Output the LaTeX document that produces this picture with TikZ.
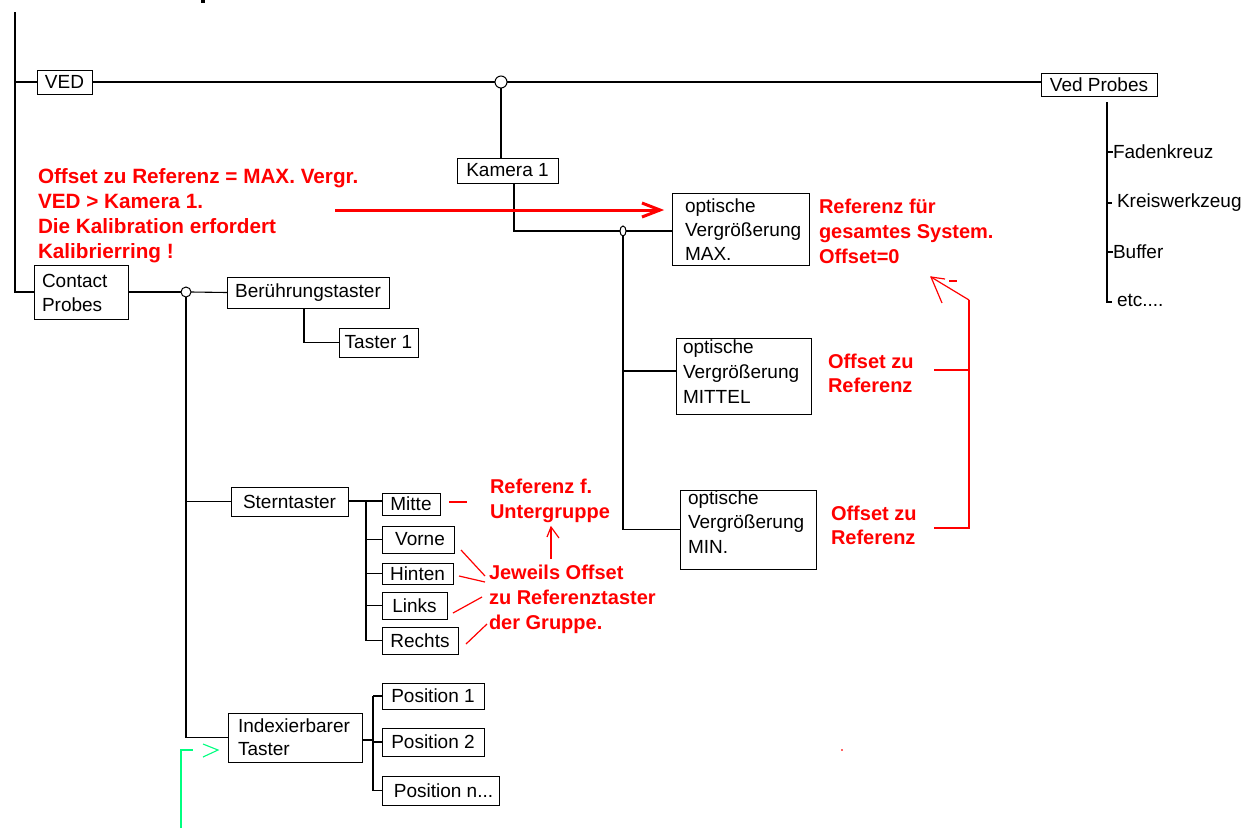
\documentclass[tikz,border=0pt]{standalone}
\usepackage{fontspec}
\setmainfont{Liberation Sans}
\usetikzlibrary{shapes.geometric}
\definecolor{grn}{RGB}{0,255,128}
\begin{document}
\begin{tikzpicture}[x=1pt,y=-1pt,
  every node/.style={font=\fontsize{19}{24}\selectfont, inner sep=0pt, outer sep=0pt},
  box/.style={draw, line width=1pt, rectangle, inner sep=0pt},
  ln/.style={line width=1.1pt},
  btxt/.style={align=left, anchor=west},
  rtxt/.style={text=red, align=left, anchor=west},
  rl/.style={draw=red, line width=1.2pt},
  junc/.style={draw, circle, line width=1pt, fill=white},
]
\useasboundingbox (0,0) rectangle (1255,828);
\fill[white] (0,0) rectangle (1255,828);

% ---------- boxes ----------
\node[box, minimum width=55, minimum height=24] (ved) at (64.5,82) {VED};
\node[box, minimum width=116, minimum height=23] (vp) at (1099,84.5) {Ved Probes};
\node[box, minimum width=101, minimum height=25] (kam) at (507.5,170.5) {Kamera 1};
\node[box, minimum width=137, minimum height=72] (max) at (740.5,229) {};
\node[box, minimum width=135, minimum height=76] (mit) at (743.5,376) {};
\node[box, minimum width=136, minimum height=79] (min) at (748,529.5) {};
\node[box, minimum width=94, minimum height=54] (con) at (81,292) {};
\node[box, minimum width=162, minimum height=31] (ber) at (308,292.5) {Berührungstaster};
\node[box, minimum width=79, minimum height=29] (t1) at (378.5,342.5) {Taster 1};
\node[box, minimum width=117, minimum height=29] (st) at (289.5,501.5) {Sterntaster};
\node[box, minimum width=58, minimum height=22] (mitte) at (411,504) {Mitte};
\node[box, minimum width=72, minimum height=27] (vorne) at (418,539.5) {\hspace*{4pt}Vorne};
\node[box, minimum width=71, minimum height=21] (hinten) at (417.5,573.5) {Hinten};
\node[box, minimum width=65, minimum height=27] (links) at (414.5,605.5) {Links};
\node[box, minimum width=76, minimum height=27] (rechts) at (420,640.5) {Rechts};
\node[box, minimum width=134, minimum height=49] (idx) at (295,737.5) {};
\node[box, minimum width=102, minimum height=26] (pos1) at (433,696) {Position 1};
\node[box, minimum width=102, minimum height=28] (pos2) at (433,742) {Position 2};
\node[box, minimum width=117, minimum height=29] (posn) at (440.5,790.5) {\hspace*{6pt}Position n...};

% multi-line box texts
\node[btxt, font=\fontsize{19}{24}\selectfont] (maxt) at (685,229.3) {optische\\Vergrößerung\\MAX.};
\node[btxt, font=\fontsize{19}{25}\selectfont] (mitt) at (683,372) {optische\\Vergrößerung\\MITTEL};
\node[btxt, font=\fontsize{19}{24.5}\selectfont] (mint) at (688,522) {optische\\Vergrößerung\\MIN.};
\node[btxt, font=\fontsize{19}{24}\selectfont] (cont) at (42,293) {Contact\\Probes};
\node[btxt, font=\fontsize{19}{23}\selectfont] (idxt) at (238,737.5) {Indexierbarer\\Taster};

% junctions
\node[junc, minimum size=12] (c1) at (501,82) {};
\node[junc, minimum size=10] (c3) at (186,292) {};
\node[draw, ellipse, line width=1pt, fill=white, minimum width=6, minimum height=10] (c2) at (623,231) {};

% ---------- black connectors ----------
\coordinate (trunk) at (15,12);
\draw[ln] (trunk) -- (trunk |- con.west) -- (con.west);
\draw[ln] (trunk |- ved.west) -- (ved.west);
\draw[ln] (ved.east) -- (c1.west);
\draw[ln] (c1.east) -- (c1.east -| vp.west);
\draw[ln] (c1.south) -- (c1.south |- kam.north);
\draw[ln] ([xshift=6.5pt]kam.south) |- (c2.west);
\draw[ln] (c2.east) -- (c2.east -| max.west);
\draw[ln] (c2.south) |- (min.west);
\draw[ln] (c2.south |- mit.west) ++(0,-5) -- ([yshift=5pt]mit.west);

\draw[ln] (con.east) -- (c3.west);
\draw[ln] (c3.east) -- (ber.west);
\draw[ln] ([xshift=-4pt]ber.south) |- (t1.west);
\draw[ln] (c3.south) |- (idx.west);
\draw[ln] (c3.south |- st.west) -- (st.west);

\coordinate (sv) at (366,501);
\draw[ln] (st.east |- sv) -- (mitte.west |- sv);
\draw[ln] (sv) |- (rechts.west);
\draw[ln] (sv |- vorne.west) -- (vorne.west);
\draw[ln] (sv |- hinten.west) -- (hinten.west);
\draw[ln] (sv |- links.west) -- (links.west);

\coordinate (iv) at (373,740);
\draw[ln] (idx.east |- iv) -- (iv);
\draw[ln] (iv |- pos1.west) -- (iv |- posn.west);
\draw[ln] (iv |- pos1.west) -- (pos1.west);
\draw[ln] (iv |- pos2.west) -- (pos2.west);
\draw[ln] (iv |- posn.west) -- (posn.west);

% Ved Probes list
\node[anchor=west] (fk) at (1113,152) {Fadenkreuz};
\node[anchor=west] (kw) at (1117,203) {Kreiswerkzeug};
\node[anchor=west] (bu) at (1113,252) {Buffer};
\node[anchor=west] (etc) at (1117,300) {etc....};
\coordinate (vpt) at (1107,102);
\coordinate (vpb) at (1107,302);
\draw[ln] (vpt) -- (vpb) -- ([xshift=-5pt]etc.west |- vpb);
\draw[ln] (vpt |- fk.west) -- (fk.west);
\draw[ln] (vpt |- kw.west) -- ([xshift=-5pt]kw.west);
\draw[ln] (vpt |- bu.west) -- (bu.west);

% ---------- red annotations ----------
\node[rtxt, font=\fontsize{20.7}{25}\bfseries\selectfont] (r1) at (38,215.5)
  {Offset zu Referenz = MAX. Vergr.\\VED > Kamera 1.\\Die Kalibration erfordert\\Kalibrierring !};
\coordinate (ra1) at (335,210);
\coordinate (ra2) at (660,210);
\draw[red, line width=3pt] (ra1) -- (ra2);
\draw[red, line width=3pt] (642,203) -- (ra2) -- (642,217);

\node[rtxt, font=\fontsize{20}{25}\bfseries\selectfont] (r2) at (819,231)
  {Referenz für\\gesamtes System.\\Offset=0};
\node[rtxt, font=\fontsize{20}{24}\bfseries\selectfont] (r3) at (828,373) {Offset zu\\Referenz};
\node[rtxt, font=\fontsize{20}{24}\bfseries\selectfont] (r4) at (831,525) {Offset zu\\Referenz};

\coordinate (bt) at (969,300);
\coordinate (bb) at (969,528);
\coordinate (tip) at (931,277);
\draw[rl] (934,370) -- (bt |- 934,370);
\draw[rl] (bt) -- (bb) -- (934,528);
\draw[rl] (bt) -- (tip);
\draw[rl] (945,279) -- (tip) -- (942,303);
\draw[rl] (949,281) -- (957,281);

\node[rtxt, font=\fontsize{20}{25}\bfseries\selectfont] (r5) at (490,500.5) {Referenz f.\\Untergruppe};
\node[rtxt, font=\fontsize{20}{25}\bfseries\selectfont] (r6) at (489,599) {Jeweils Offset\\zu Referenztaster\\der Gruppe.};
\draw[rl] (449,502) -- (467,502);
\draw[rl] (551,559) -- (551,527);
\draw[rl] (547,537) -- (551,527) -- (559,538);
\draw[rl] (461,550) -- (485,576);
\draw[rl] (459,576) -- (485,582);
\draw[rl] (453,613) -- (482,597);
\draw[rl] (466,644) -- (487,624);

% green arrow
\draw[grn, line width=1.1pt] (181,828) -- (181,750) -- (193,750);
\draw[grn, line width=1.1pt] (203,744) -- (218,750) -- (203,757);

% stray marks
\fill[red!60] (841,749) rectangle (843,751);
\fill (201,0) rectangle (205,2.5);
\end{tikzpicture}
\end{document}
